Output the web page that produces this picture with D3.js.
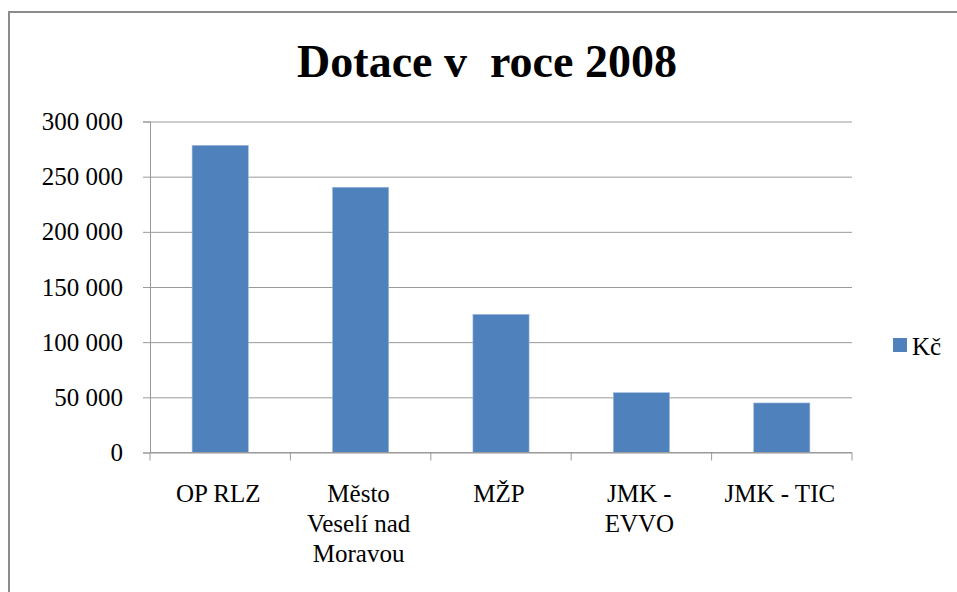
<!DOCTYPE html>
<html>
<head>
<meta charset="utf-8">
<script src="https://cdn.jsdelivr.net/npm/d3@7"></script>
<style>
  html, body { margin: 0; padding: 0; background: #fff; }
  svg { display: block; }
  svg text { font-family: "Times New Roman", "Liberation Serif", Tinos, "DejaVu Serif", serif; }
</style>
</head>
<body>
<svg id="chart" width="957" height="592"></svg>
<script>
const title = "Dotace v\u00a0 roce 2008";
const categories = ["OP RLZ", "Město Veselí nad Moravou", "MŽP", "JMK - EVVO", "JMK - TIC"];
const tickLabels = [["OP RLZ"], ["Město", "Veselí nad", "Moravou"], ["MŽP"], ["JMK -", "EVVO"], ["JMK - TIC"]];
const values = [278400, 240400, 125200, 54200, 44900];
const yTicks = [0, 50000, 100000, 150000, 200000, 250000, 300000];
const seriesName = "Kč";

const W = 957, H = 592;
const m = {left: 150, right: 852, top: 121.5, bottom: 452.5};
const barColor = "#4f81bd", gridColor = "#9a9a9a";

const svg = d3.select("#chart");

// outer chart frame, runs off the right and bottom of the picture
svg.append("rect")
  .attr("x", 9).attr("y", 12)
  .attr("width", W + 20).attr("height", H + 20)
  .attr("fill", "#fff")
  .attr("stroke", "#8c8c8c").attr("stroke-width", 2);

svg.append("text")
  .attr("x", 487).attr("y", 77)
  .attr("text-anchor", "middle")
  .attr("font-size", 46).attr("font-weight", "bold")
  .text(title);

const x = d3.scaleBand().domain(categories).range([m.left, m.right]).paddingInner(0.6).paddingOuter(0.3);
const xb = d3.scaleBand().domain(categories).range([m.left, m.right]);
const y = d3.scaleLinear().domain([0, 300000]).range([m.bottom, m.top]);

const fmt = v => d3.format(",")(v).replace(/,/g, " ");

// gridlines + left axis
const yAxis = svg.append("g")
  .attr("transform", `translate(${m.left},0)`)
  .call(d3.axisLeft(y).tickValues(yTicks).tickFormat(fmt).tickSize(7).tickPadding(20))
  .attr("font-family", null)
  .call(g => g.select(".domain").attr("stroke", gridColor))
  .call(g => g.selectAll(".tick line").attr("stroke", gridColor))
  .call(g => g.selectAll(".tick text").attr("font-size", 25).attr("fill", "#000"));

yAxis.selectAll(".tick").append("line")
  .attr("x1", 0).attr("x2", m.right - m.left)
  .attr("stroke", gridColor);

// bars
svg.append("g").selectAll("rect")
  .data(values)
  .join("rect")
  .attr("x", (d, i) => x(categories[i]))
  .attr("width", x.bandwidth())
  .attr("y", d => y(d))
  .attr("height", d => y(0) - y(d))
  .attr("fill", barColor)
  .attr("stroke", "#9fb9da").attr("stroke-width", 0.6);

// bottom axis: ticks at category boundaries
const xAxis = svg.append("g")
  .attr("transform", `translate(0,${m.bottom})`);
xAxis.append("line")
  .attr("x1", m.left).attr("x2", m.right)
  .attr("stroke", gridColor);
xAxis.selectAll(".bt")
  .data(categories.map(c => xb(c)).concat([m.right]))
  .join("line")
  .attr("x1", d => d).attr("x2", d => d)
  .attr("y1", 0).attr("y2", 8)
  .attr("stroke", gridColor);

xAxis.selectAll(".lbl")
  .data(tickLabels)
  .join("text")
  .attr("text-anchor", "middle")
  .attr("font-size", 25)
  .attr("transform", (d, i) => `translate(${xb(categories[i]) + xb.bandwidth() / 2 - 2},49)`)
  .selectAll("tspan")
  .data(d => d)
  .join("tspan")
  .attr("x", 0)
  .attr("y", (d, i) => i * 30)
  .text(d => d);

// legend
const legend = svg.append("g").attr("transform", "translate(893,338)");
legend.append("rect").attr("width", 14).attr("height", 14).attr("fill", barColor);
legend.append("text").attr("x", 19).attr("y", 17).attr("font-size", 25).text(seriesName);
</script>
</body>
</html>
